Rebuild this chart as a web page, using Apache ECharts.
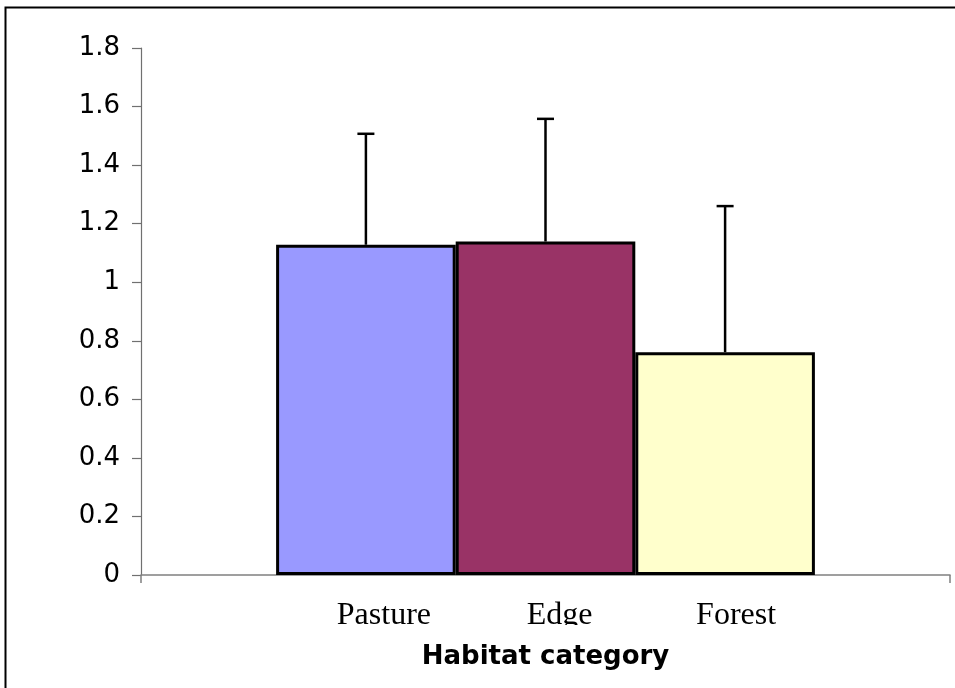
<!DOCTYPE html>
<html>
<head>
<meta charset="utf-8">
<script src="https://cdn.jsdelivr.net/npm/echarts@6/dist/echarts.min.js"></script>
<style>
html,body{margin:0;padding:0;background:#fff;}
#chart{width:955px;height:688px;}
</style>
</head>
<body>
<div id="chart"></div>
<script>
// ---- data ----
const habitats = ['Pasture', 'Edge', 'Forest'];
const means = [1.128, 1.139, 0.761];
const upperErrors = [1.507, 1.558, 1.260];
const barColors = ['#9999FF', '#993366', '#FFFFCC'];
const labelOffsets = [18, 14, 11];
const yTickLabels = ['0', '0.2', '0.4', '0.6', '0.8', '1', '1.2', '1.4', '1.6', '1.8'];
const xTitle = 'Habitat category';

const BAR_FRACTION = 0.222;

const chart = echarts.init(document.getElementById('chart'), null, {renderer: 'canvas'});

const barSeries = habitats.map((name, i) => ({
  type: 'bar',
  name: name,
  data: [means[i]],
  barWidth: (BAR_FRACTION * 100) + '%',
  barGap: '0%',
  itemStyle: { color: barColors[i], borderColor: '#000', borderWidth: 3 },
  label: {
    show: true,
    position: 'bottom',
    distance: 25,
    offset: [labelOffsets[i], 0],
    formatter: '{a}',
    fontFamily: '"Liberation Serif", "Times New Roman", serif',
    fontSize: 32,
    color: '#000'
  },
  emphasis: { disabled: true },
  z: 2
}));

const errData = habitats.map((h, i) => [0, means[i], upperErrors[i], i]);

const errSeries = {
  type: 'custom',
  name: 'err',
  data: errData,
  encode: { x: 0, y: [1, 2] },
  z: 5,
  renderItem: function (params, api) {
    const idx = api.value(3);
    const band = api.size([1, 0])[0];
    const base = api.coord([api.value(0), api.value(1)]);
    const top = api.coord([api.value(0), api.value(2)]);
    const x = base[0] + (idx - 1) * band * BAR_FRACTION;
    const half = 8.5;
    const st = { stroke: '#000', lineWidth: 2.5 };
    return {
      type: 'group',
      children: [
        { type: 'line', shape: { x1: x, y1: base[1], x2: x, y2: top[1] }, style: st },
        { type: 'line', shape: { x1: x - half, y1: top[1], x2: x + half, y2: top[1] }, style: st }
      ]
    };
  }
};

chart.setOption({
  animation: false,
  backgroundColor: '#fff',
  grid: { left: 141, right: 5, top: 48, bottom: 113, containLabel: false },
  xAxis: {
    type: 'category',
    data: [''],
    boundaryGap: true,
    axisLine: { show: true, lineStyle: { color: '#808080', width: 1.5 } },
    axisTick: { show: true, length: 8, lineStyle: { color: '#808080', width: 1.5 } },
    axisLabel: { show: false },
    name: xTitle,
    nameLocation: 'middle',
    nameGap: 69,
    nameTextStyle: {
      fontFamily: '"DejaVu Sans", Verdana, sans-serif',
      fontWeight: 'bold',
      fontSize: 26,
      color: '#000'
    }
  },
  yAxis: {
    type: 'value',
    min: 0,
    max: 1.8,
    interval: 0.2,
    splitLine: { show: false },
    axisLine: { show: true, lineStyle: { color: '#707070', width: 1.2 } },
    axisTick: { show: true, length: 9, lineStyle: { color: '#707070', width: 1.2 } },
    axisLabel: {
      margin: 21,
      fontFamily: '"DejaVu Sans", Verdana, sans-serif',
      fontSize: 26,
      color: '#000',
      formatter: function (v) { return yTickLabels[Math.round(v / 0.2)]; }
    }
  },
  series: barSeries.concat([errSeries]),
  graphic: [
    {
      type: 'rect',
      silent: true,
      z: 100,
      shape: { x: 141, y: 625, width: 809, height: 14 },
      style: { fill: '#fff' }
    },
    {
      type: 'rect',
      silent: true,
      z: 100,
      shape: { x: 5.5, y: 7.5, width: 1000, height: 1000 },
      style: { fill: 'none', stroke: '#000', lineWidth: 2 }
    }
  ]
});
</script>
</body>
</html>
